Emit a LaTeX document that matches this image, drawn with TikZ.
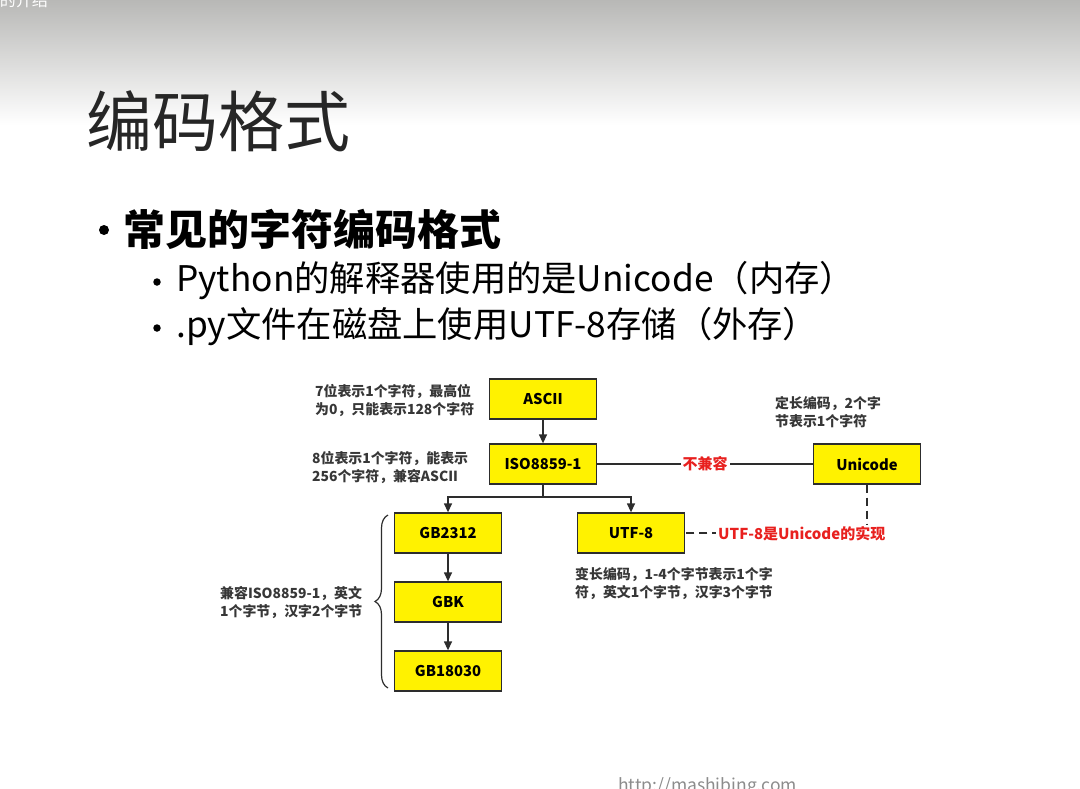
\documentclass[tikz,border=0pt]{standalone}
\usepackage{fontspec}
\setmainfont{Noto Sans CJK SC}
\usetikzlibrary{arrows.meta,decorations.pathreplacing}
\definecolor{boxy}{RGB}{255,242,0}
\definecolor{bord}{RGB}{45,45,45}
\definecolor{redt}{RGB}{232,32,30}
\definecolor{anno}{RGB}{55,55,55}
\begin{document}
\begin{tikzpicture}[x=1pt,y=-1pt,
  enc/.style={draw=bord,line width=1.3pt,fill=boxy,minimum width=107pt,minimum height=40pt,inner sep=0pt,font=\bfseries\fontsize{14.8}{16}\selectfont},
  arr/.style={draw=bord,line width=1.3pt,-{Triangle[length=9pt,width=8pt]}},
  ln/.style={draw=bord,line width=1.3pt},
  note/.style={align=left,text=anno,font=\bfseries\fontsize{13.9}{18}\selectfont,inner sep=0pt},
  redlab/.style={text=redt,fill=white,font=\bfseries\fontsize{15}{17}\selectfont,inner sep=2pt},
  dot/.style={circle,fill=black,inner sep=0pt},
]
\useasboundingbox (0,0) rectangle (1080,788);
\fill[white] (0,0) rectangle (1080,788);
\shade[top color={rgb,255:red,184;green,184;blue,182}, bottom color=white] (0,0) rectangle (1080,125);
\node[anchor=base east,text=white,font=\fontsize{16}{16}\selectfont,inner sep=0pt] (top) at (48,6) {编码的介绍};
% title and bullets
\node[anchor=west,text=black!85,font=\fontsize{66}{66}\selectfont,inner sep=0pt] (title) at (86,121) {编码格式};
\node[dot,minimum size=10pt] (d1) at (104,230) {};
\node[anchor=west,font=\bfseries\fontsize{42}{42}\selectfont,inner sep=0pt] (b1) at (123,229) {常见的字符编码格式};
\node[dot,minimum size=7.5pt] (d2) at (157,282) {};
\node[anchor=west,font=\fontsize{35.3}{35}\selectfont,inner sep=0pt] (b2) at (176,281) {Python的解释器使用的是Unicode（内存）};
\node[dot,minimum size=7.5pt] (d3) at (157,328) {};
\node[anchor=west,font=\fontsize{35.3}{35}\selectfont,inner sep=0pt] (b3) at (176,327) {.py文件在磁盘上使用UTF-8存储（外存）};
% boxes
\node[enc] (ascii) at (543,399) {ASCII};
\node[enc] (iso) at (543,464) {ISO8859-1};
\node[enc] (unicode) at (867,464) {Unicode};
\node[enc] (gb2312) at (448,533) {GB2312};
\node[enc] (utf8) at (631,533) {UTF-8};
\node[enc] (gbk) at (448,602) {GBK};
\node[enc] (gb18030) at (448,671) {GB18030};
% connectors
\draw[arr] (ascii) -- (iso);
\coordinate (split) at (543,497);
\draw[ln] (iso.south) -- (split);
\draw[arr] (split) -| (gb2312.north);
\draw[arr] (split) -| (utf8.north);
\draw[ln] (iso) -- node[redlab] (bjr) {不兼容} (unicode);
\draw[ln,dash pattern=on 8pt off 5pt] (unicode.south) |- (utf8.east);
\node[redlab,anchor=west] (impl) at (716,534) {UTF-8是Unicode的实现};
\draw[arr] (gb2312) -- (gbk);
\draw[arr] (gbk) -- (gb18030);
\draw[bord,line width=1.2pt,decorate,decoration={brace,amplitude=13pt}] (388,688) -- (388,515);
% notes
\node[note,anchor=west] (n1) at (315,400) {7位表示1个字符，最高位\\为0，只能表示128个字符};
\node[note,anchor=west] (n2) at (312,467) {8位表示1个字符，能表示\\256个字符，兼容ASCII};
\node[note,anchor=west] (n3) at (775,412) {定长编码，2个字\\节表示1个字符};
\node[note,anchor=west] (n4) at (575,584) {变长编码，1-4个字节表示1个字\\符，英文1个字节，汉字3个字节};
\node[note,anchor=west] (n5) at (220,603) {兼容ISO8859-1，英文\\1个字节，汉字2个字节};
\node[anchor=base west,text=black!45,font=\fontsize{17.5}{18}\selectfont,inner sep=0pt] (url) at (618,791) {http://mashibing.com};
\end{tikzpicture}
\end{document}
